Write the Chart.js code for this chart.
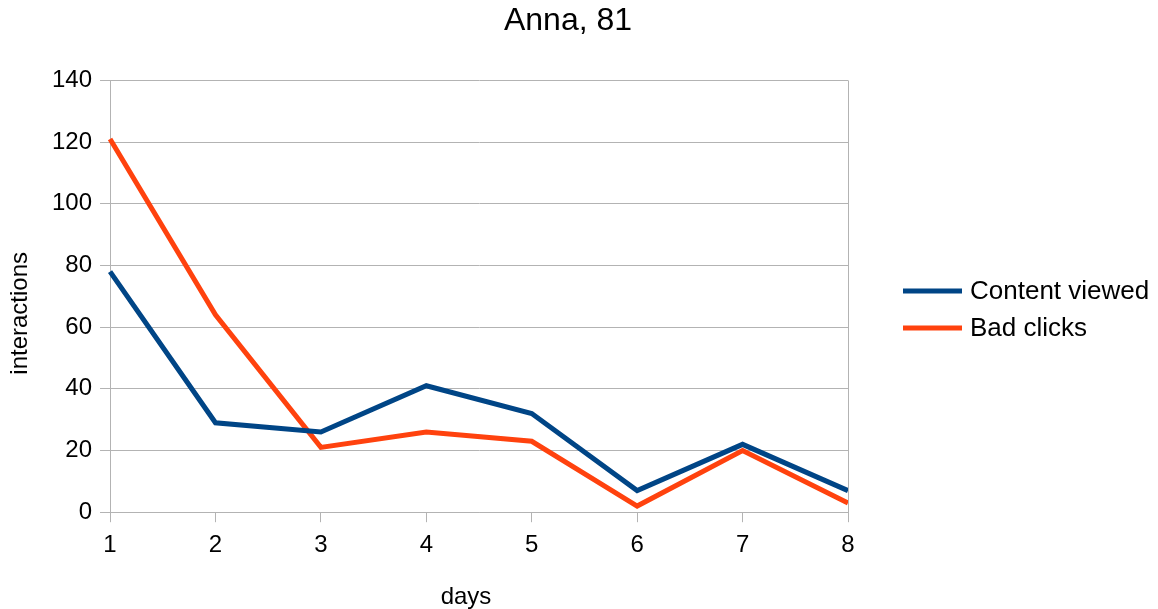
<!DOCTYPE html>
<html>
<head>
<meta charset="utf-8">
<title>Anna, 81</title>
<script src="https://cdn.jsdelivr.net/npm/chart.js@4/dist/chart.umd.min.js"></script>
<style>
  html, body { margin: 0; padding: 0; background: #ffffff; }
  #wrap { width: 1158px; height: 609px; position: relative; }
</style>
</head>
<body>
<div id="wrap"><canvas id="chart" width="1158" height="609"></canvas></div>
<script>
// Days on the x axis
const days = ['1', '2', '3', '4', '5', '6', '7', '8'];
// Interactions per day
const contentViewed = [78, 29, 26, 41, 32, 7, 22, 7];
const badClicks = [121, 64, 21, 26, 23, 2, 20, 3];
// Y axis range
const yMin = 0;
const yMax = 140;
const yStep = 20;

const FONT = "'Liberation Sans', Arial, sans-serif";
const GRID = '#b3b3b3';

// Centre the title over most of the canvas rather than the padded layout box
const titleShift = {
  id: 'titleShift',
  afterLayout(chart) {
    if (chart.titleBlock) {
      chart.titleBlock.left = 0;
      chart.titleBlock.right = chart.width - 22;
    }
  }
};

// Small offsets (dx, dy) applied when the axis titles are painted
const axisTitleOffsets = { x: [-13, 0], y: [0, 17] };
const axisTitleShift = {
  id: 'axisTitleShift',
  afterLayout(chart) {
    Object.keys(axisTitleOffsets).forEach((id) => {
      const scale = chart.scales[id];
      if (!scale || scale.__titleShifted) return;
      const [dx, dy] = axisTitleOffsets[id];
      const original = scale.drawTitle;
      scale.drawTitle = function () {
        const ctx = this.ctx;
        ctx.save();
        ctx.translate(dx, dy);
        original.call(this);
        ctx.restore();
      };
      scale.__titleShifted = true;
    });
  }
};

// Right frame line of the plot plus a line-sample legend beside it
const sideLegend = {
  id: 'sideLegend',
  afterDraw(chart) {
    const { ctx, chartArea } = chart;
    const right = Math.round(chartArea.right) + 0.5;
    ctx.save();
    ctx.strokeStyle = GRID;
    ctx.lineWidth = 1;
    ctx.beginPath();
    ctx.moveTo(right, chartArea.top);
    ctx.lineTo(right, chartArea.bottom);
    ctx.stroke();

    const sets = chart.data.datasets;
    const rowGap = 37;
    const midY = 309.5;
    const x0 = chartArea.right + 55;
    const x1 = chartArea.right + 114;
    ctx.font = "26px " + FONT;
    ctx.textBaseline = 'middle';
    ctx.textAlign = 'left';
    sets.forEach((ds, i) => {
      const y = midY + (i - (sets.length - 1) / 2) * rowGap;
      ctx.strokeStyle = ds.borderColor;
      ctx.lineWidth = 5;
      ctx.lineCap = 'butt';
      ctx.beginPath();
      ctx.moveTo(x0, y);
      ctx.lineTo(x1, y);
      ctx.stroke();
      ctx.fillStyle = '#000000';
      ctx.fillText(ds.label, x1 + 8, y + 1);
    });
    ctx.restore();
  }
};

new Chart(document.getElementById('chart'), {
  type: 'line',
  data: {
    labels: days,
    datasets: [
      {
        label: 'Content viewed',
        data: contentViewed,
        borderColor: '#004586',
        backgroundColor: '#004586',
        borderWidth: 5,
        pointRadius: 0,
        tension: 0
      },
      {
        label: 'Bad clicks',
        data: badClicks,
        borderColor: '#ff420e',
        backgroundColor: '#ff420e',
        borderWidth: 5,
        pointRadius: 0,
        tension: 0
      }
    ]
  },
  options: {
    responsive: false,
    animation: false,
    layout: { padding: { left: 4, right: 310, top: 2, bottom: 0 } },
    plugins: {
      title: {
        display: true,
        text: 'Anna, 81',
        color: '#000000',
        font: { family: FONT, size: 32, weight: 'normal', lineHeight: 1.2 },
        padding: { top: 0, bottom: 40 }
      },
      legend: { display: false },
      tooltip: { enabled: false }
    },
    scales: {
      x: {
        offset: false,
        grid: {
          display: true,
          drawOnChartArea: false,
          drawTicks: true,
          tickLength: 10,
          color: GRID
        },
        border: { display: true, color: GRID },
        ticks: {
          color: '#000000',
          font: { family: FONT, size: 24 },
          padding: 9,
          maxRotation: 0
        },
        title: {
          display: true,
          text: 'days',
          color: '#000000',
          font: { family: FONT, size: 24, lineHeight: 1 },
          padding: { top: 16, bottom: 0 }
        }
      },
      y: {
        min: yMin,
        max: yMax,
        grid: {
          color: GRID,
          tickLength: 10
        },
        border: { display: true, color: GRID },
        ticks: {
          stepSize: yStep,
          color: '#000000',
          font: { family: FONT, size: 24 },
          padding: 8
        },
        title: {
          display: true,
          text: 'interactions',
          color: '#000000',
          font: { family: FONT, size: 24, lineHeight: 1 },
          padding: { top: 4, bottom: 12 }
        }
      }
    }
  },
  plugins: [titleShift, axisTitleShift, sideLegend]
});
</script>
</body>
</html>
